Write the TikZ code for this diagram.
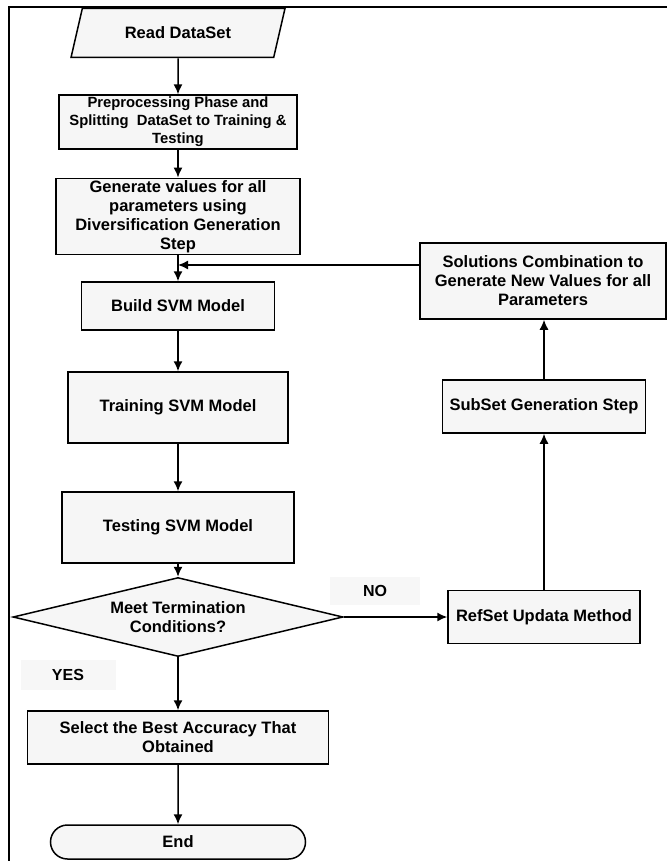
\documentclass[tikz,border=0pt]{standalone}
\usepackage{fontspec}
\setmainfont{Liberation Sans}
\usepackage{tikz}
\usetikzlibrary{arrows.meta,shapes.geometric,shapes.misc}
\definecolor{boxFill}{RGB}{246, 246, 246}

\tikzset{
  flowbox/.style={draw, line width=1.5pt, fill=boxFill, align=center, inner sep=2pt,
    font=\bfseries\fontsize{16.5}{19}\selectfont},
  flowlabel/.style={fill=black!3, align=center, inner sep=2pt,
    font=\bfseries\fontsize{16}{19}\selectfont},
  flowarrow/.style={line width=1.5pt, -{Latex[length=10pt,width=9pt]}}
}

\begin{document}
\begin{tikzpicture}[x=1pt,y=1pt]
    \useasboundingbox (0,0) rectangle (667,-861);
    \draw[line width=2pt] (9,-861) -- (9,-7) -- (667,-7);
    % main column
    \node[flowbox, trapezium, trapezium left angle=68, trapezium right angle=112,
          trapezium stretches=true, minimum width=214pt, minimum height=49pt] (read) at (178,-33) {Read DataSet};
    \node[flowbox, font=\bfseries\fontsize{14.8}{18}\selectfont, minimum width=238pt, minimum height=50pt] (pre) at (178,-122) {Preprocessing Phase and\\Splitting\ \ DataSet to Training \&\\Testing};
    \node[flowbox, minimum width=244pt, minimum height=73pt] (gen) at (178,-216.5) {Generate values for all\\parameters using\\Diversification Generation\\Step};
    \node[flowbox, minimum width=193pt, minimum height=48pt] (build) at (178,-306) {Build SVM Model};
    \node[flowbox, minimum width=220pt, minimum height=71pt] (train) at (178,-407.5) {Training SVM Model};
    \node[flowbox, minimum width=232pt, minimum height=71pt] (test) at (178,-527.5) {Testing SVM Model};
    \node[flowbox, diamond, aspect=4.2, inner sep=0pt, minimum width=330pt, minimum height=79pt] (cond) at (178,-617) {Meet Termination\\Conditions?};
    \node[flowbox, minimum width=301pt, minimum height=53pt] (select) at (178,-737.5) {Select the Best Accuracy That\\Obtained};
    \node[flowbox, rounded rectangle, minimum width=259pt, minimum height=34pt] (end) at (178,-842) {End};
    % labels
    \node[flowlabel, minimum width=95pt, minimum height=30pt] (yes) at (68,-675) {YES};
    \node[flowlabel, minimum width=90pt, minimum height=28pt] (no) at (375,-591) {NO};
    % right column
    \node[flowbox, minimum width=192pt, minimum height=53pt] (refset) at (544,-617) {RefSet Updata Method};
    \node[flowbox, minimum width=203pt, minimum height=53pt] (subset) at (544,-406.5) {SubSet Generation Step};
    \node[flowbox, minimum width=246pt, minimum height=76pt] (sol) at (543,-281) {Solutions Combination to\\Generate New Values for all\\Parameters};
    \coordinate (join) at (178,-265);
    % connectors
    \draw[flowarrow] (read) -- (pre);
    \draw[flowarrow] (pre) -- (gen);
    \draw[flowarrow] (gen) -- (build);
    \draw[flowarrow] (build) -- (train);
    \draw[flowarrow] (train) -- (test);
    \draw[flowarrow] (test) -- (cond);
    \draw[flowarrow] (cond) -- (select);
    \draw[flowarrow] (select) -- (end);
    \draw[flowarrow] (cond.east) -- (refset.west |- cond.east);
    \draw[flowarrow] (refset.north -| subset.south) -- (subset.south);
    \draw[flowarrow] (subset.north) -- (subset.north |- sol.south);
    \draw[flowarrow] (sol.west |- join) -- (join);
\end{tikzpicture}
\end{document}
